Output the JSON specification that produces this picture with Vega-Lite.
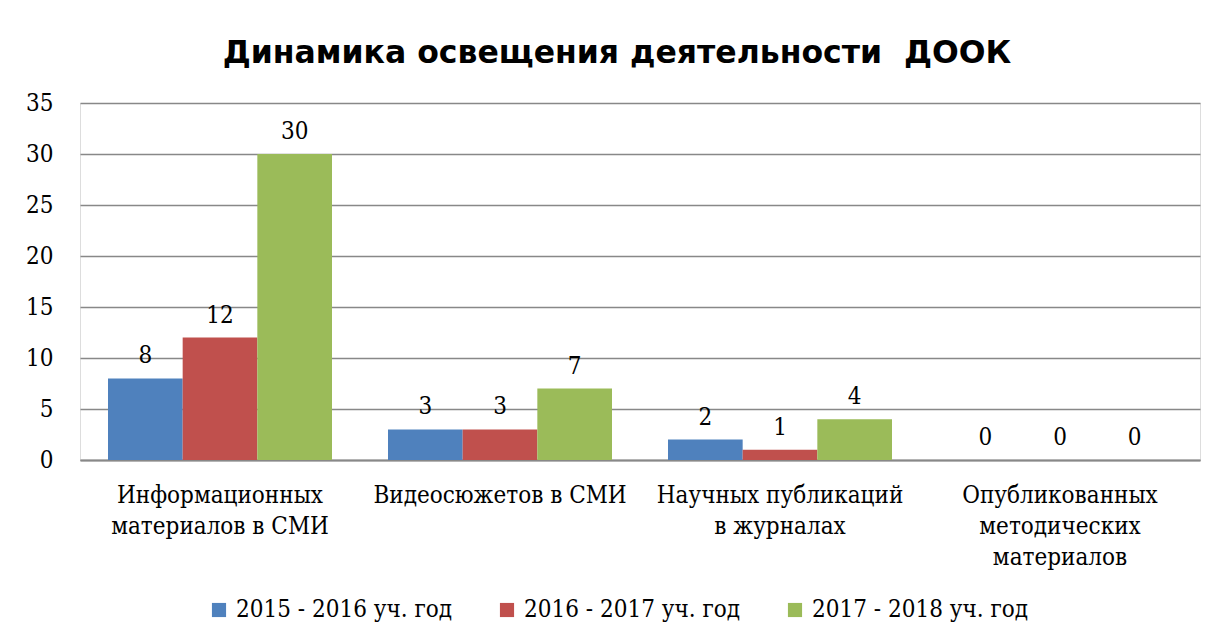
{
  "$schema": "https://vega.github.io/schema/vega-lite/v6.json",
  "width": 1120,
  "height": 357,
  "autosize": {"type": "none"},
  "padding": {"left": 80, "top": 103, "right": 17, "bottom": 183},
  "background": "white",
  "title": {
    "text": "Динамика освещения деятельности \u00a0ДООК",
    "font": "DejaVu Sans",
    "fontWeight": "bold",
    "fontSize": 31.5,
    "color": "#000000",
    "anchor": "middle",
    "dx": -23,
    "offset": 22
  },
  "data": {
    "values": [
      {"cat": "Информационных\nматериалов в СМИ", "year": "2015 - 2016 уч. год", "v": 8},
      {"cat": "Информационных\nматериалов в СМИ", "year": "2016 - 2017 уч. год", "v": 12},
      {"cat": "Информационных\nматериалов в СМИ", "year": "2017 - 2018 уч. год", "v": 30},
      {"cat": "Видеосюжетов в СМИ", "year": "2015 - 2016 уч. год", "v": 3},
      {"cat": "Видеосюжетов в СМИ", "year": "2016 - 2017 уч. год", "v": 3},
      {"cat": "Видеосюжетов в СМИ", "year": "2017 - 2018 уч. год", "v": 7},
      {"cat": "Научных публикаций\nв журналах", "year": "2015 - 2016 уч. год", "v": 2},
      {"cat": "Научных публикаций\nв журналах", "year": "2016 - 2017 уч. год", "v": 1},
      {"cat": "Научных публикаций\nв журналах", "year": "2017 - 2018 уч. год", "v": 4},
      {"cat": "Опубликованных\nметодических\nматериалов", "year": "2015 - 2016 уч. год", "v": 0},
      {"cat": "Опубликованных\nметодических\nматериалов", "year": "2016 - 2017 уч. год", "v": 0},
      {"cat": "Опубликованных\nметодических\nматериалов", "year": "2017 - 2018 уч. год", "v": 0}
    ]
  },
  "encoding": {
    "x": {
      "field": "cat",
      "type": "nominal",
      "sort": null,
      "title": null,
      "scale": {"paddingInner": 0.2, "paddingOuter": 0.1},
      "axis": {
        "labelAngle": 0,
        "labelExpr": "split(datum.value, '\\n')",
        "labelFont": "DejaVu Serif Condensed",
        "labelFontSize": 24,
        "labelColor": "#000000",
        "labelLineHeight": 31,
        "labelPadding": 23,
        "labelLimit": 400,
        "ticks": false,
        "domain": true,
        "domainColor": "#888888",
        "domainWidth": 2,
        "grid": false
      }
    },
    "xOffset": {"field": "year", "type": "nominal", "sort": null},
    "y": {
      "field": "v",
      "type": "quantitative",
      "title": null,
      "scale": {"domain": [0, 35], "nice": false},
      "axis": {
        "values": [0, 5, 10, 15, 20, 25, 30, 35],
        "labelFont": "DejaVu Serif Condensed",
        "labelFontSize": 24,
        "labelColor": "#000000",
        "labelPadding": 27,
        "ticks": false,
        "domain": false,
        "gridColor": "#888888",
        "gridWidth": 1.5
      }
    }
  },
  "layer": [
    {
      "mark": {"type": "bar"},
      "encoding": {
        "color": {
          "field": "year",
          "type": "nominal",
          "sort": null,
          "title": null,
          "scale": {"range": ["#4F81BD", "#C0504D", "#9BBB59"]},
          "legend": {
            "orient": "none",
            "legendX": 127,
            "legendY": 495,
            "direction": "horizontal",
            "symbolType": "square",
            "symbolSize": 200,
            "symbolStrokeWidth": 0,
            "labelFont": "DejaVu Serif Condensed",
            "labelFontSize": 24,
            "labelColor": "#000000",
            "columnPadding": 42,
            "labelOffset": 5,
            "labelLimit": 400
          }
        }
      }
    },
    {
      "mark": {
        "type": "text",
        "baseline": "alphabetic",
        "dy": -15,
        "font": "DejaVu Serif Condensed",
        "fontSize": 24,
        "color": "#000000"
      },
      "encoding": {"text": {"field": "v", "type": "quantitative"}}
    }
  ]
}
